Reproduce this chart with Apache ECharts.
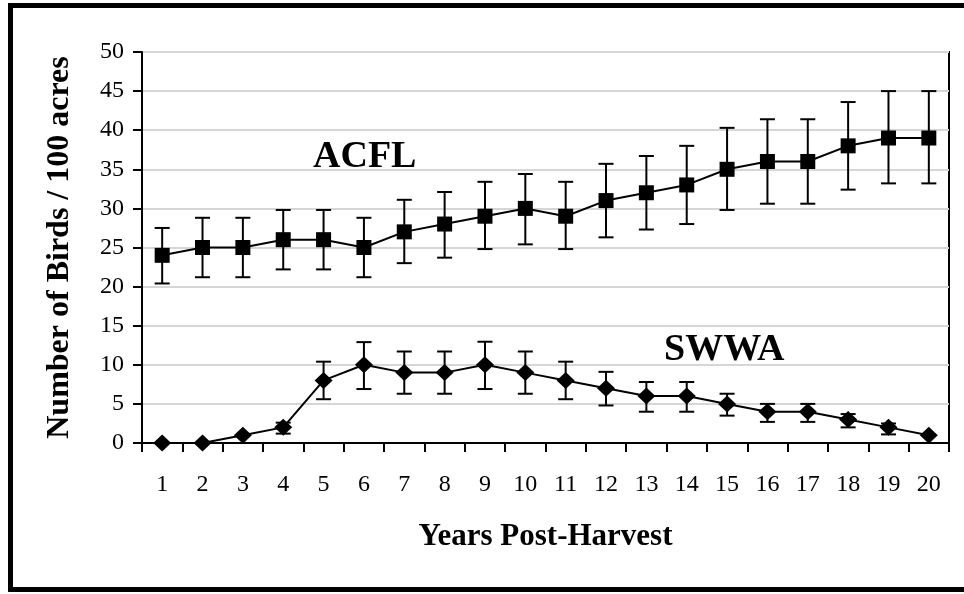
<!DOCTYPE html>
<html>
<head>
<meta charset="utf-8">
<script src="https://cdn.jsdelivr.net/npm/echarts@6/dist/echarts.min.js"></script>
<style>
html,body{margin:0;padding:0;background:#fff;}
#chart{width:964px;height:594px;}
</style>
</head>
<body>
<div id="chart"></div>
<script>
const years = ['1','2','3','4','5','6','7','8','9','10','11','12','13','14','15','16','17','18','19','20'];
const acfl = [24,25,25,26,26,25,27,28,29,30,29,31,32,33,35,36,36,38,39,39];
const acflLow = [20.4,21.2,21.2,22.2,22.2,21.2,23.0,23.7,24.8,25.4,24.8,26.3,27.3,28.0,29.8,30.6,30.6,32.4,33.2,33.2];
const acflHigh = [27.5,28.8,28.8,29.8,29.8,28.8,31.1,32.1,33.4,34.4,33.4,35.7,36.7,38.0,40.3,41.4,41.4,43.6,45.0,45.0];
const swwa = [0,0,1,2,8,10,9,9,10,9,8,7,6,6,5,4,4,3,2,1];
const swwaLow = [0,0,1,1.2,5.6,6.9,6.3,6.3,6.9,6.3,5.6,4.8,4.0,4.0,3.5,2.7,2.7,2.0,1.1,1];
const swwaHigh = [0,0,1,2.6,10.4,12.9,11.7,11.7,12.95,11.7,10.4,9.1,7.8,7.8,6.3,5.0,5.0,3.7,2.5,1];
const yTicks = [0,5,10,15,20,25,30,35,40,45,50];
const labelACFL = 'ACFL';
const labelSWWA = 'SWWA';

const FONT = '"Liberation Serif", "Times New Roman", serif';

function errData(low, high) {
  const out = [];
  for (let i = 0; i < low.length; i++) {
    if (high[i] > low[i]) out.push([i, low[i], high[i]]);
  }
  return out;
}

function renderErr(params, api) {
  const x = api.value(0);
  const lo = api.coord([x, api.value(1)]);
  const hi = api.coord([x, api.value(2)]);
  const cap = 7.5;
  const style = { stroke: '#000', lineWidth: 2, fill: null };
  return {
    type: 'group',
    children: [
      { type: 'line', shape: { x1: lo[0], y1: lo[1], x2: hi[0], y2: hi[1] }, style: style },
      { type: 'line', shape: { x1: hi[0] - cap, y1: hi[1], x2: hi[0] + cap, y2: hi[1] }, style: style },
      { type: 'line', shape: { x1: lo[0] - cap, y1: lo[1], x2: lo[0] + cap, y2: lo[1] }, style: style }
    ]
  };
}

const chart = echarts.init(document.getElementById('chart'), null, { renderer: 'canvas' });
chart.setOption({
  backgroundColor: '#fff',
  animation: false,
  grid: {
    left: 142, top: 52, right: 15, bottom: 151,
    show: true, borderColor: '#000', borderWidth: 2, backgroundColor: 'transparent'
  },
  xAxis: {
    type: 'category',
    data: years,
    boundaryGap: true,
    name: 'Years Post-Harvest',
    nameLocation: 'middle',
    nameGap: 78,
    nameTextStyle: { fontFamily: FONT, fontWeight: 'bold', fontSize: 31, color: '#000' },
    axisLine: { lineStyle: { color: '#000', width: 2 } },
    axisTick: { show: true, length: 9, alignWithLabel: false, lineStyle: { color: '#000', width: 2 } },
    axisLabel: { fontFamily: FONT, fontSize: 24, color: '#000', margin: 30, interval: 0 },
    splitLine: { show: false }
  },
  yAxis: {
    type: 'value',
    min: 0, max: 50, interval: 5,
    name: 'Number of Birds / 100 acres',
    nameLocation: 'middle',
    nameGap: 66,
    nameRotate: 90,
    nameTextStyle: { fontFamily: FONT, fontWeight: 'bold', fontSize: 32, color: '#000' },
    axisLine: { show: true, lineStyle: { color: '#000', width: 2 } },
    axisTick: { show: true, length: 9, lineStyle: { color: '#000', width: 2 } },
    axisLabel: {
      fontFamily: FONT, fontSize: 24, color: '#000', margin: 18,
      formatter: function (v) { return yTicks.indexOf(v) >= 0 ? String(v) : ''; }
    },
    splitLine: { show: true, lineStyle: { color: '#d6d6d6', width: 2 } }
  },
  series: [
    {
      type: 'custom', name: 'ACFL err', renderItem: renderErr,
      data: errData(acflLow, acflHigh), z: 2, encode: { x: 0, y: [1, 2] }
    },
    {
      type: 'custom', name: 'SWWA err', renderItem: renderErr,
      data: errData(swwaLow, swwaHigh), z: 2, encode: { x: 0, y: [1, 2] }
    },
    {
      type: 'line', name: labelACFL, data: acfl, z: 5,
      symbol: 'rect', symbolSize: 15,
      lineStyle: { color: '#000', width: 2 },
      itemStyle: { color: '#000' }
    },
    {
      type: 'line', name: labelSWWA, data: swwa, z: 5,
      symbol: 'diamond', symbolSize: [18, 17],
      lineStyle: { color: '#000', width: 2 },
      itemStyle: { color: '#000' }
    }
  ],
  graphic: [
    {
      type: 'rect', silent: true, z: 100,
      shape: { x: 10.5, y: 5.5, width: 1000, height: 584 },
      style: { fill: null, stroke: '#000', lineWidth: 5 }
    },
    {
      type: 'text', left: 313, top: 138, z: 50,
      style: { text: labelACFL, font: 'bold 38px ' + FONT, fill: '#000' }
    },
    {
      type: 'text', left: 664, top: 331, z: 50,
      style: { text: labelSWWA, font: 'bold 38px ' + FONT, fill: '#000' }
    }
  ]
});
</script>
</body>
</html>
